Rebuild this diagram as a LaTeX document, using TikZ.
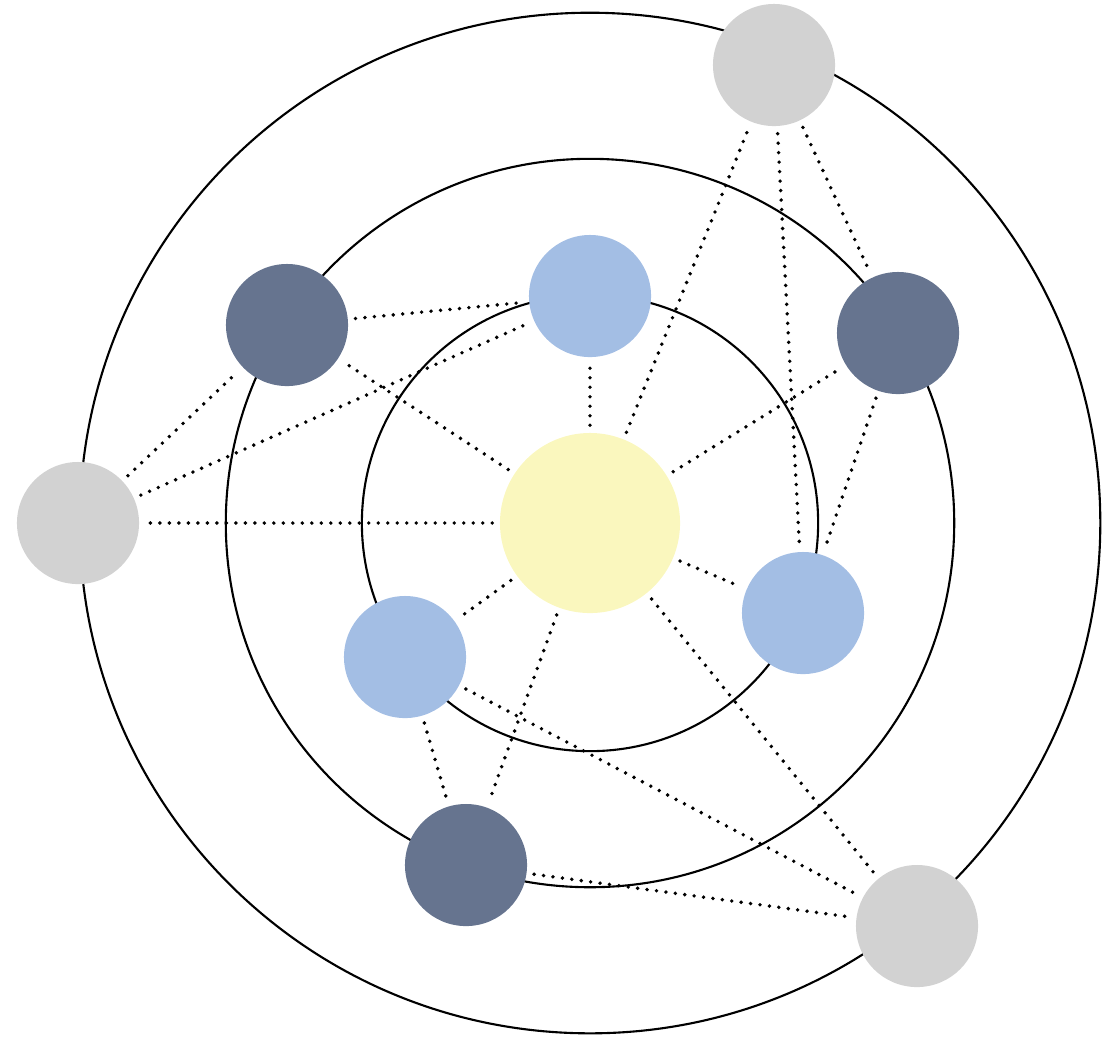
\documentclass[tikz,border=0pt]{standalone}
\usepackage{tikz}

\definecolor{coreyellow}{HTML}{FAF7BE}
\definecolor{innerblue}{HTML}{A3BEE4}
\definecolor{midslate}{HTML}{66748F}
\definecolor{outergray}{HTML}{D2D2D2}

\begin{document}
\begin{tikzpicture}[
      x=0.01cm,
      y=-0.01cm,
      ring/.style={draw=black, line width=0.6pt},
      link/.style={line width=1.1pt, line cap=round, dash pattern=on 0pt off 2.7pt,
        shorten <=2pt, shorten >=2pt},
      ball/.style={circle, minimum size=1.22cm, inner sep=0pt},
      core/.style={ball, fill=coreyellow, minimum size=1.8cm},
      inner/.style={ball, fill=innerblue},
      middle/.style={ball, fill=midslate},
      outer/.style={ball, fill=outergray}
    ]
    \useasboundingbox (0,0) rectangle (1104,1038);
    \coordinate (o) at (590,523);

    % three orbits
    \draw[ring] (o) circle[radius=5.1cm];
    \draw[ring] (o) circle[radius=3.64cm];
    \draw[ring] (o) circle[radius=2.28cm];

    \node[core] (hub) at (o) {};
    \node[inner] (inTop) at (590,296) {};
    \node[inner] (inRight) at (803,613) {};
    \node[inner] (inLeft) at (405,657) {};
    \node[middle] (midLeft) at (287,325) {};
    \node[middle] (midRight) at (898,333) {};
    \node[middle] (midBottom) at (466,865) {};
    \node[outer] (outTop) at (774,65) {};
    \node[outer] (outLeft) at (78,523) {};
    \node[outer] (outBottom) at (917,926) {};

    % spokes from the hub
    \foreach \n in {inTop,inRight,inLeft,midLeft,midRight,midBottom,outTop,outLeft,outBottom}
      \draw[link] (hub) -- (\n);

    % cross links
    \draw[link] (midLeft) -- (inTop);
    \draw[link] (outLeft) -- (inTop);
    \draw[link] (outLeft) -- (midLeft);
    \draw[link] (outTop) -- (midRight);
    \draw[link] (outTop) -- (inRight);
    \draw[link] (midRight) -- (inRight);
    \draw[link] (inLeft) -- (midBottom);
    \draw[link] (inLeft) -- (outBottom);
    \draw[link] (midBottom) -- (outBottom);
  \end{tikzpicture}
\end{document}
